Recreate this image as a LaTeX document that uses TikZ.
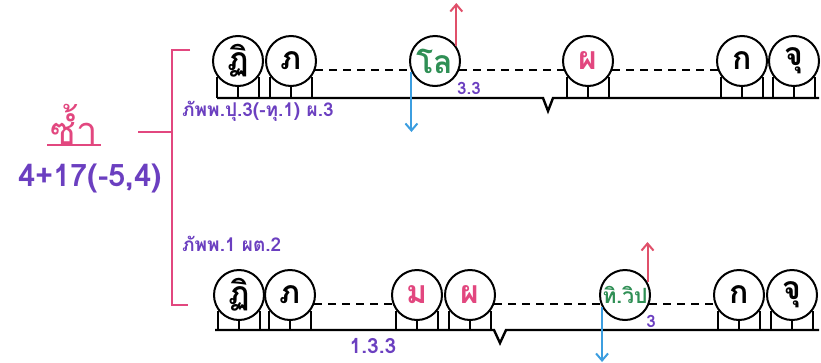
\documentclass[tikz,border=0pt]{standalone}
\usepackage{fontspec}
\setmainfont{Loma}[Script=Thai]
\usetikzlibrary{arrows.meta}
\definecolor{pinkc}{HTML}{E2477F}
\definecolor{purp}{HTML}{6B3FC0}
\definecolor{grn}{HTML}{2F8F55}
\definecolor{bluec}{HTML}{3C9EE0}
\definecolor{redc}{HTML}{E0506A}
\tikzset{
  mind/.style={circle, draw=black, line width=2pt, minimum size=50pt, inner sep=0pt,
    font=\fontsize{32}{32}\selectfont\bfseries},
  legline/.style={draw=black, line width=2pt},
  baseln/.style={draw=black, line width=2.4pt, line join=miter},
  dashln/.style={draw=black, line width=1.8pt, dash pattern=on 8pt off 6pt},
  uparr/.style={draw=redc, line width=2pt, -{Straight Barb[length=7pt,width=12pt,line width=2pt]}},
  downarr/.style={draw=bluec, line width=2pt, -{Straight Barb[length=7pt,width=12pt,line width=2pt]}},
  plabel/.style={text=purp, font=\fontsize{19}{19}\selectfont\bfseries, inner sep=0pt},
  bracketln/.style={draw=pinkc, line width=2pt},
}
\begin{document}
\begin{tikzpicture}[x=1pt,y=-1pt]
\useasboundingbox (0,0) rectangle (821,362);

% ---------- left part ----------
\node[text=pinkc, font=\fontsize{38}{38}\selectfont, inner sep=1pt] (rep) at (74,124) {ซ้ำ};
\coordinate (ul1) at (47,145);
\coordinate (ul2) at (101,145);
\draw[bracketln] (ul1) -- (ul2);
\node[text=purp, font=\fontsize{31}{31}\selectfont\bfseries, inner sep=0pt] (form) at (90,178) {4+17(-5,4)};

\coordinate (bt) at (190,50);
\coordinate (btc) at (172,50);
\coordinate (bbc) at (172,305);
\coordinate (bb) at (188,305);
\coordinate (bm) at (172,132);
\coordinate (bl) at (138,132);
\draw[bracketln] (bt) -- (btc) -- (bbc) -- (bb);
\draw[bracketln] (bl) -- (bm);

% ---------- top row ----------
\node[mind] (a1) at (238,61) {ฏิ};
\node[mind] (a2) at (291,61) {ภ};
\node[mind, text=grn] (a3) at (435,61) {โล};
\node[mind, text=pinkc] (a4) at (588,61) {ผ};
\node[mind] (a5) at (742,61) {ก};
\node[mind] (a6) at (794,61) {จุ};

\coordinate (TL) at (217,98);
\coordinate (TN1) at (543,98);
\coordinate (TN2) at (548,111);
\coordinate (TN3) at (553,98);
\coordinate (TR) at (819,98);
\draw[baseln] (TL) -- (TN1) -- (TN2) -- (TN3) -- (TR);

\foreach \n in {a1,a2,a4,a5,a6}{
  \draw[legline] (\n.-143) -- (\n.-143 |- TL);
  \draw[legline] (\n.south) -- (\n.south |- TL);
  \draw[legline] (\n.-37) -- (\n.-37 |- TL);
}
\draw[dashln] (a2.-20) -- (a3.-160);
\draw[dashln] (a3.-20) -- (a4.-160);
\draw[dashln] (a4.-20) -- (a5.-160);

\coordinate (a3up) at (a3.35 |- 0,3);
\coordinate (a3dn) at (a3.-155 |- 0,132);
\draw[uparr] (a3.35) -- (a3up);
\draw[downarr] (a3.-155) -- (a3dn);
\node[plabel, font=\fontsize{17}{17}\selectfont\bfseries] (l33) at (469,88) {3.3};
\node[plabel, anchor=west] (ltop) at (182,111) {ภัพพ.ปุ.3(-ทุ.1) ผ.3};

% ---------- bottom row ----------
\node[mind] (b1) at (239,295) {ฏิ};
\node[mind] (b2) at (290,295) {ภ};
\node[mind, text=pinkc] (b3) at (417,295) {ม};
\node[mind, text=pinkc] (b4) at (470,295) {ผ};
\node[mind, text=grn, font=\fontsize{21}{21}\selectfont\bfseries] (b5) at (625,295) {ทิ.วิป};
\node[mind] (b6) at (739,295) {ก};
\node[mind] (b7) at (792,295) {จุ};

\coordinate (BL) at (215,330);
\coordinate (BN1) at (494,330);
\coordinate (BN2) at (500,343);
\coordinate (BN3) at (506,330);
\coordinate (BR) at (819,330);
\draw[baseln] (BL) -- (BN1) -- (BN2) -- (BN3) -- (BR);

\foreach \n in {b1,b2,b3,b4,b6,b7}{
  \draw[legline] (\n.-143) -- (\n.-143 |- BL);
  \draw[legline] (\n.south) -- (\n.south |- BL);
  \draw[legline] (\n.-37) -- (\n.-37 |- BL);
}
\draw[dashln] (b2.-20) -- (b3.-160);
\draw[dashln] (b4.-20) -- (b5.-160);
\draw[dashln] (b5.-20) -- (b6.-160);

\coordinate (b5up) at (b5.30 |- 0,242);
\coordinate (b5dn) at (b5.-152 |- 0,362);
\draw[uparr] (b5.30) -- (b5up);
\draw[downarr] (b5.-152) -- (b5dn);
\node[plabel, font=\fontsize{17}{17}\selectfont\bfseries] (l3) at (651,321) {3};
\node[plabel, anchor=west] (lbot) at (182,244) {ภัพพ.1 ผต.2};
\node[plabel, font=\fontsize{21}{21}\selectfont\bfseries] (l133) at (373,346) {1.3.3};
\end{tikzpicture}
\end{document}
